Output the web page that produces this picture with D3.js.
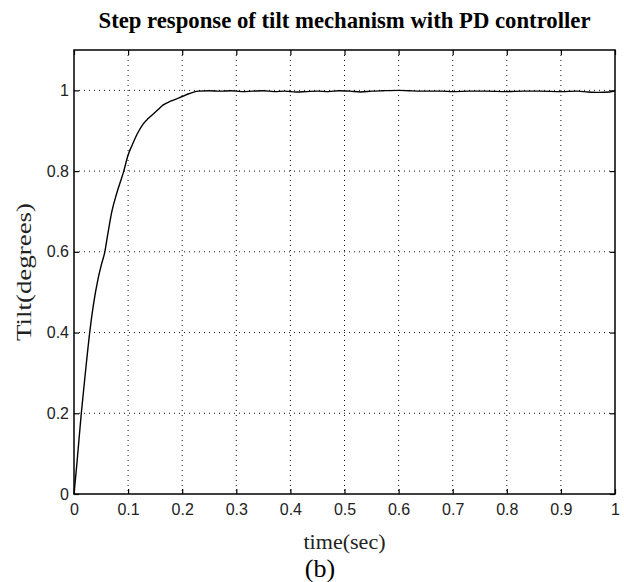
<!DOCTYPE html>
<html>
<head>
<meta charset="utf-8">
<script src="https://cdn.jsdelivr.net/npm/d3@7"></script>
<style>
  body { margin: 0; background: #fff; }
  svg { display: block; }
</style>
</head>
<body>
<div id="chart"></div>
<script>
// step response samples (time in sec, tilt in degrees)
var timeVals = [0, 0.005, 0.0135, 0.021, 0.029, 0.036, 0.044, 0.051, 0.057, 0.062, 0.070,
                0.079, 0.092, 0.100, 0.107, 0.118, 0.128, 0.137, 0.147, 0.156, 0.165,
                0.175, 0.184, 0.193, 0.202, 0.211, 0.220, 0.230, 0.25, 0.27, 0.29,
                0.31, 0.33, 0.35, 0.37, 0.39, 0.41, 0.43, 0.45, 0.47, 0.49, 0.51,
                0.53, 0.55, 0.57, 0.60, 0.62, 0.65, 0.68, 0.70, 0.73, 0.76, 0.80,
                0.83, 0.86, 0.90, 0.93, 0.95, 0.97, 0.99, 1.0];
var tiltVals = [0, 0.07, 0.20, 0.30, 0.40, 0.47, 0.53, 0.57, 0.60, 0.64, 0.70,
                0.745, 0.80, 0.84, 0.863, 0.895, 0.917, 0.930, 0.942, 0.953, 0.964,
                0.971, 0.976, 0.981, 0.986, 0.991, 0.995, 0.998, 0.999, 0.998, 0.999,
                0.997, 0.998, 0.999, 0.997, 0.998, 0.996, 0.997, 0.998, 0.997, 0.999, 0.998,
                0.996, 0.998, 0.999, 1.0, 0.999, 0.998, 0.998, 0.997, 0.998, 0.998, 0.997,
                0.998, 0.998, 0.997, 0.998, 0.996, 0.995, 0.996, 0.998];

// axis ticks and labels
var xTicks = [0, 0.1, 0.2, 0.3, 0.4, 0.5, 0.6, 0.7, 0.8, 0.9, 1];
var yTicks = [0, 0.2, 0.4, 0.6, 0.8, 1];
var xDomain = [0, 1];
var yDomain = [0, 1.1];

var titleText   = "Step response of tilt mechanism with PD controller";
var xLabelText  = "time(sec)";
var yLabelText  = "Tilt(degrees)";
var captionText = "(b)";

// size setup
var width = 624, height = 582;
var margins = {top: 50, right: 9, bottom: 88, left: 74};
var chartWidth  = width - margins.left - margins.right;
var chartHeight = height - margins.top - margins.bottom;
var tickLen = 5;

var svg = d3.select('#chart').append('svg')
    .attr('width', width)
    .attr('height', height)
    .style('background', '#fff');

var cht = svg.append('g')
    .attr('transform', 'translate(' + margins.left + ',' + margins.top + ')');

// build scales
var xScale = d3.scaleLinear().domain(xDomain).range([0, chartWidth]);
var yScale = d3.scaleLinear().domain(yDomain).range([chartHeight, 0]);

// dotted grid
var grid = cht.append('g').attr('class', 'grid');

grid.selectAll('line.gx')
    .data(xTicks.filter(function(d){ return d > xDomain[0] && d < xDomain[1]; }))
    .enter().append('line')
    .attr('class', 'gx')
    .attr('x1', function(d){ return xScale(d); })
    .attr('x2', function(d){ return xScale(d); })
    .attr('y1', 0)
    .attr('y2', chartHeight);

grid.selectAll('line.gy')
    .data(yTicks.filter(function(d){ return d > yDomain[0] && d < yDomain[1]; }))
    .enter().append('line')
    .attr('class', 'gy')
    .attr('x1', 0)
    .attr('x2', chartWidth)
    .attr('y1', function(d){ return yScale(d); })
    .attr('y2', function(d){ return yScale(d); });

grid.selectAll('line')
    .style('stroke', '#111')
    .style('stroke-width', 1)
    .style('stroke-dasharray', '1,4');

// response curve
var pts = timeVals.map(function(t, i){ return [t, tiltVals[i]]; });
var line = d3.line()
    .curve(d3.curveMonotoneX)
    .x(function(d){ return xScale(d[0]); })
    .y(function(d){ return yScale(d[1]); });

cht.append('path')
    .datum(pts)
    .attr('d', line)
    .style('fill', 'none')
    .style('stroke', '#000')
    .style('stroke-width', 1.4);

// axes, ticks pointing inward on all four sides
var fmt = function(d){ return d3.format('~g')(d); };

var axiX = cht.append('g')
    .attr('transform', 'translate(0,' + chartHeight + ')')
    .call(d3.axisBottom(xScale).tickValues(xTicks).tickFormat(fmt)
        .tickSizeInner(-tickLen).tickSizeOuter(0).tickPadding(10));
var axiY = cht.append('g')
    .call(d3.axisLeft(yScale).tickValues(yTicks).tickFormat(fmt)
        .tickSizeInner(-tickLen).tickSizeOuter(0).tickPadding(5));
var axiT = cht.append('g')
    .call(d3.axisTop(xScale).tickValues(xTicks).tickFormat('')
        .tickSizeInner(-tickLen).tickSizeOuter(0));
var axiR = cht.append('g')
    .attr('transform', 'translate(' + chartWidth + ',0)')
    .call(d3.axisRight(yScale).tickValues(yTicks).tickFormat('')
        .tickSizeInner(-tickLen).tickSizeOuter(0));

[axiX, axiY, axiT, axiR].forEach(function(a){
    a.select('.domain').remove();
    a.selectAll('.tick line').style('stroke', '#000').style('stroke-width', 1.2);
    a.selectAll('.tick text')
        .style('font-family', '"Liberation Sans", Arial, sans-serif')
        .style('font-size', '16px')
        .style('fill', '#222');
});

// box
cht.append('rect')
    .attr('x', 0).attr('y', 0)
    .attr('width', chartWidth).attr('height', chartHeight)
    .style('fill', 'none')
    .style('stroke', '#000')
    .style('stroke-width', 1.5);

// texts
svg.append('text')
    .attr('x', margins.left + chartWidth / 2)
    .attr('y', 28)
    .attr('text-anchor', 'middle')
    .attr('textLength', 492)
    .attr('lengthAdjust', 'spacingAndGlyphs')
    .style('font-family', '"Liberation Serif", "Times New Roman", serif')
    .style('font-weight', 'bold')
    .style('font-size', '24px')
    .text(titleText);

svg.append('text')
    .attr('x', margins.left + chartWidth / 2)
    .attr('y', 549)
    .attr('text-anchor', 'middle')
    .attr('textLength', 82)
    .attr('lengthAdjust', 'spacingAndGlyphs')
    .style('font-family', '"Liberation Serif", "Times New Roman", serif')
    .style('font-size', '21px')
    .style('fill', '#222')
    .text(xLabelText);

svg.append('text')
    .attr('transform', 'translate(31,' + (margins.top + chartHeight / 2) + ') rotate(-90)')
    .attr('text-anchor', 'middle')
    .attr('textLength', 138)
    .attr('lengthAdjust', 'spacingAndGlyphs')
    .style('font-family', '"Liberation Serif", "Times New Roman", serif')
    .style('font-size', '20px')
    .style('fill', '#222')
    .text(yLabelText);

svg.append('text')
    .attr('x', 320)
    .attr('y', 577)
    .attr('text-anchor', 'middle')
    .style('font-family', '"Liberation Serif", "Times New Roman", serif')
    .style('font-size', '26px')
    .text(captionText);
</script>
</body>
</html>
